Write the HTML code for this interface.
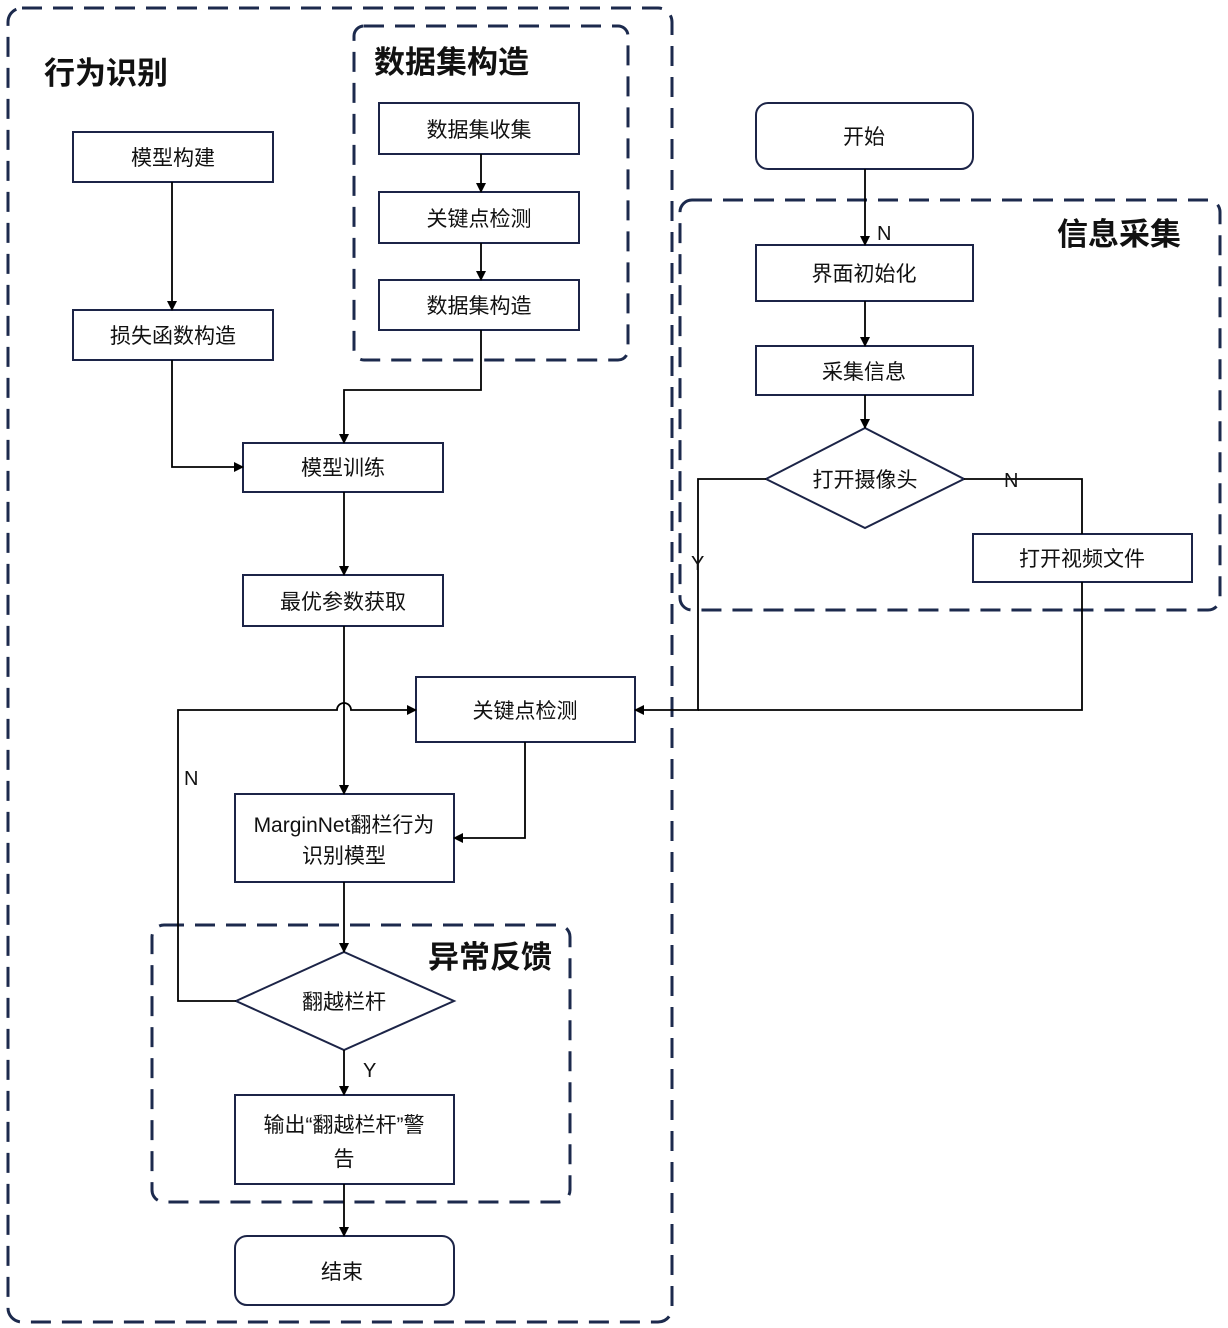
<!DOCTYPE html>
<html><head><meta charset="utf-8"><style>
html,body{margin:0;padding:0;background:#fff;}
svg{display:block;}
text{font-family:"Liberation Sans","Noto Sans CJK SC",sans-serif;fill:#111;}
</style></head><body>
<svg width="1228" height="1328" viewBox="0 0 1228 1328" xmlns="http://www.w3.org/2000/svg">
<defs>
<marker id="a" markerWidth="10" markerHeight="10" refX="9" refY="5" orient="auto" markerUnits="userSpaceOnUse">
<path d="M0,0 L10,5 L0,10 z" fill="#000"/></marker>
</defs>
<g fill="none" stroke="#1c2a4d" stroke-width="3" stroke-dasharray="20,11">
<rect x="8" y="8" width="664" height="1314" rx="14"/>
<rect x="354" y="26" width="274" height="334" rx="10"/>
<rect x="680" y="200" width="540" height="410" rx="12"/>
<rect x="152" y="925" width="418" height="277" rx="12"/>
</g>
<g font-weight="bold" font-size="31">
<text x="44" y="84">行为识别</text>
<text x="374" y="73">数据集构造</text>
<text x="1057" y="245">信息采集</text>
<text x="428" y="968">异常反馈</text>
</g>
<g fill="#fff" stroke="#1c2447" stroke-width="2">
<rect x="73" y="132" width="200" height="50"/>
<rect x="73" y="310" width="200" height="50"/>
<rect x="379" y="103" width="200" height="51"/>
<rect x="379" y="192" width="200" height="51"/>
<rect x="379" y="280" width="200" height="50"/>
<rect x="243" y="443" width="200" height="49"/>
<rect x="243" y="575" width="200" height="51"/>
<rect x="416" y="677" width="219" height="65"/>
<rect x="235" y="794" width="219" height="88"/>
<polygon points="236,1001 344,952 454,1001 344,1050"/>
<rect x="235" y="1095" width="219" height="89"/>
<rect x="235" y="1236" width="219" height="69" rx="12"/>
<rect x="756" y="103" width="217" height="66" rx="12"/>
<rect x="756" y="245" width="217" height="56"/>
<rect x="756" y="346" width="217" height="49"/>
<polygon points="766,479 865,428 964,479 865,528"/>
<rect x="973" y="534" width="219" height="48"/>
</g>
<g fill="none" stroke="#000" stroke-width="1.8">
<path d="M172,182 V310" marker-end="url(#a)"/>
<path d="M172,360 V467 H243" marker-end="url(#a)"/>
<path d="M481,154 V192" marker-end="url(#a)"/>
<path d="M481,243 V280" marker-end="url(#a)"/>
<path d="M481,330 V390 H344 V443" marker-end="url(#a)"/>
<path d="M344,492 V575" marker-end="url(#a)"/>
<path d="M344,626 V794" marker-end="url(#a)"/>
<path d="M236,1001 H178 V710 H337 A7,7 0 0 1 351,710 H416" marker-end="url(#a)"/>
<path d="M525,742 V838 H454" marker-end="url(#a)"/>
<path d="M344,882 V952" marker-end="url(#a)"/>
<path d="M344,1050 V1095" marker-end="url(#a)"/>
<path d="M344,1184 V1236" marker-end="url(#a)"/>
<path d="M865,169 V245" marker-end="url(#a)"/>
<path d="M865,301 V346" marker-end="url(#a)"/>
<path d="M865,395 V428" marker-end="url(#a)"/>
<path d="M766,479 H698 V710 H635" marker-end="url(#a)"/>
<path d="M964,479 H1082 V534"/>
<path d="M1082,582 V710 H698"/>
</g>
<g font-size="21" text-anchor="middle">
<text x="173" y="165">模型构建</text>
<text x="173" y="343">损失函数构造</text>
<text x="479" y="137">数据集收集</text>
<text x="479" y="226">关键点检测</text>
<text x="479" y="313">数据集构造</text>
<text x="343" y="475">模型训练</text>
<text x="343" y="609">最优参数获取</text>
<text x="525" y="718">关键点检测</text>
<text x="344" y="832">MarginNet翻栏行为</text>
<text x="344" y="863">识别模型</text>
<text x="344" y="1009">翻越栏杆</text>
<text x="344" y="1132">输出“翻越栏杆”警</text>
<text x="344" y="1166">告</text>
<text x="342" y="1279">结束</text>
<text x="864" y="144">开始</text>
<text x="864" y="281">界面初始化</text>
<text x="864" y="379">采集信息</text>
<text x="865" y="487">打开摄像头</text>
<text x="1082" y="566">打开视频文件</text>
</g>
<g font-size="20">
<text x="877" y="240">N</text>
<text x="1004" y="487">N</text>
<text x="691" y="570">Y</text>
<text x="184" y="785">N</text>
<text x="363" y="1077">Y</text>
</g>
</svg>
</body></html>
